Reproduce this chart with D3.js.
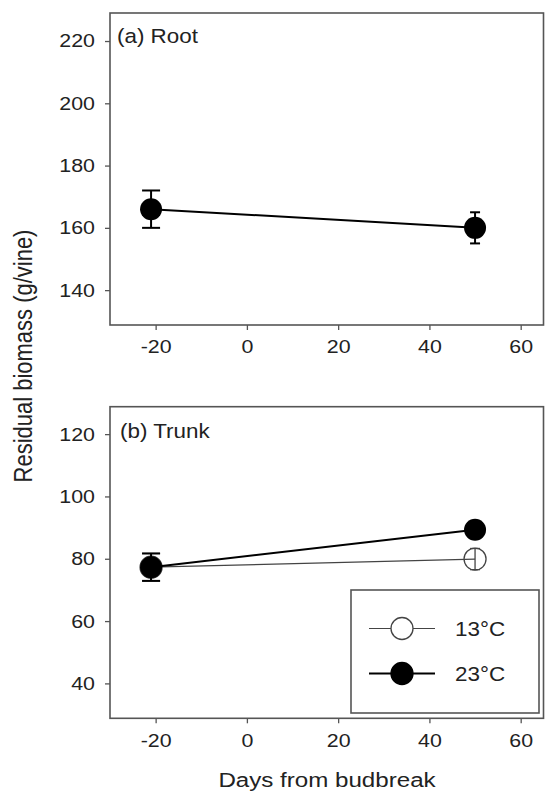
<!DOCTYPE html>
<html>
<head>
<meta charset="utf-8">
<script src="https://cdn.jsdelivr.net/npm/d3@7"></script>
<style>
    body { margin: 0; background: #fff; }
    text { font-family: 'Liberation Sans', Arial, sans-serif; fill: #222; }
</style>
</head>
<body>
<script>
    // Data
    var days = [-21, 50];
    var rootMean = [166, 160];
    var rootErr = [6, 5];
    var trunk13Mean = [77.3, 79.9];
    var trunk13Err = [4.4, 3.4];
    var trunk23Mean = [77.3, 89.3];
    var trunk23Err = [4.4, 2];
    var xTicks = [-20, 0, 20, 40, 60];
    var rootTicks = [140, 160, 180, 200, 220];
    var trunkTicks = [40, 60, 80, 100, 120];
    var legendLabels = ['13\u00b0C', '23\u00b0C'];

    var width = 547,
        height = 791,
        stretch = 1.15,
        frameColor = '#555';

    // plain hyphen for negatives, like the figure
    var fmt = function(d) { return String(d); };

    var svg = d3.select('body')
            .append('svg')
            .attr('width', width)
            .attr('height', height);

    var x = d3.scaleLinear().domain([-30, 65]).range([110, 543.5]);

    var panels = [
        {
            label: '(a) Root', labelX: 117, labelY: 43,
            top: 13, bottom: 325,
            domain: [128.8, 229], ticks: rootTicks,
            series: [
                { mean: rootMean, err: rootErr, open: false }
            ]
        },
        {
            label: '(b) Trunk', labelX: 120, labelY: 438,
            top: 406.7, bottom: 718.3,
            domain: [28.8, 128.8], ticks: trunkTicks,
            series: [
                { mean: trunk13Mean, err: trunk13Err, open: true },
                { mean: trunk23Mean, err: trunk23Err, open: false }
            ]
        }
    ];

    panels.forEach(function(panel) {
        var y = d3.scaleLinear().domain(panel.domain).range([panel.bottom, panel.top]);
        var g = svg.append('g');

        // Axes
        var xAxis = g.append('g')
                .attr('transform', 'translate(0,' + panel.bottom + ')')
                .call(d3.axisBottom(x).tickValues(xTicks).tickSize(5).tickPadding(10).tickFormat(fmt));
        var yAxis = g.append('g')
                .attr('transform', 'translate(110,0)')
                .call(d3.axisLeft(y).tickValues(panel.ticks).tickSize(5).tickPadding(10).tickFormat(fmt));

        [xAxis, yAxis].forEach(function(a) {
            a.select('.domain').remove();
            a.selectAll('line').attr('stroke', frameColor).attr('stroke-width', 1.3);
            a.selectAll('text')
                .attr('fill', '#222')
                .style('font-family', "'Liberation Sans', Arial, sans-serif")
                .style('font-size', '18.6px');
        });
        xAxis.selectAll('text').attr('transform', 'scale(' + stretch + ',1)');
        yAxis.selectAll('text')
                .attr('x', -15 / stretch)
                .attr('transform', 'scale(' + stretch + ',1)');

        // Frame
        g.append('rect')
                .attr('x', x.range()[0])
                .attr('y', panel.top)
                .attr('width', x.range()[1] - x.range()[0])
                .attr('height', panel.bottom - panel.top)
                .attr('fill', 'none')
                .attr('stroke', frameColor)
                .attr('stroke-width', 1.6);

        // Panel label
        g.append('text')
                .attr('transform', 'translate(' + panel.labelX + ',' + panel.labelY + ') scale(' + stretch + ',1)')
                .style('font-size', '19.5px')
                .text(panel.label);

        // Series
        panel.series.forEach(function(s) {
            var pts = days.map(function(d, i) { return { day: d, mean: s.mean[i], err: s.err[i], idx: i }; });
            var col = s.open ? '#444' : '#000';

            g.append('path')
                    .datum(pts)
                    .attr('fill', 'none')
                    .attr('stroke', col)
                    .attr('stroke-width', s.open ? 1.2 : 2)
                    .attr('d', d3.line().x(function(d) { return x(d.day); }).y(function(d) { return y(d.mean); }));

            var eb = g.append('g').selectAll('g').data(pts).enter().append('g')
                    .attr('stroke', col)
                    .attr('stroke-width', s.open ? 1.3 : 2);
            eb.append('line')
                    .attr('x1', function(d) { return x(d.day); })
                    .attr('x2', function(d) { return x(d.day); })
                    .attr('y1', function(d) { return y(d.mean + d.err); })
                    .attr('y2', function(d) { return y(d.mean - d.err); });
            [1, -1].forEach(function(sign) {
                eb.append('line')
                        .attr('x1', function(d) { return x(d.day) - (d.idx === 0 ? 9 : 5); })
                        .attr('x2', function(d) { return x(d.day) + (d.idx === 0 ? 9 : 5); })
                        .attr('y1', function(d) { return y(d.mean + sign * d.err); })
                        .attr('y2', function(d) { return y(d.mean + sign * d.err); });
            });

            g.append('g').selectAll('circle').data(pts).enter().append('circle')
                    .attr('cx', function(d) { return x(d.day); })
                    .attr('cy', function(d) { return y(d.mean); })
                    .attr('r', 11)
                    .attr('fill', s.open ? 'none' : '#000')
                    .attr('stroke', col)
                    .attr('stroke-width', s.open ? 1.3 : 0);
        });
    });

    // Legend (in trunk panel)
    var legend = svg.append('g');
    legend.append('rect')
            .attr('x', 351)
            .attr('y', 590)
            .attr('width', 188)
            .attr('height', 123)
            .attr('fill', '#fff')
            .attr('stroke', frameColor)
            .attr('stroke-width', 1.6);

    var entries = legend.selectAll('g.entry').data(legendLabels).enter().append('g')
            .attr('class', 'entry')
            .attr('transform', function(d, i) { return 'translate(0,' + (628.5 + i * 45) + ')'; });
    entries.append('line')
            .attr('x1', 369)
            .attr('x2', 435)
            .attr('stroke', function(d, i) { return i === 0 ? '#444' : '#000'; })
            .attr('stroke-width', function(d, i) { return i === 0 ? 1.2 : 2; });
    entries.append('circle')
            .attr('cx', 402)
            .attr('r', 11)
            .attr('fill', function(d, i) { return i === 0 ? '#fff' : '#000'; })
            .attr('stroke', function(d, i) { return i === 0 ? '#444' : '#000'; })
            .attr('stroke-width', 1.3);
    entries.append('text')
            .attr('transform', 'translate(455,7) scale(' + stretch + ',1)')
            .style('font-size', '19.5px')
            .text(function(d) { return d; });

    // Axis titles
    svg.append('text')
            .attr('transform', 'translate(327,787) scale(' + stretch + ',1)')
            .attr('text-anchor', 'middle')
            .style('font-size', '21px')
            .text('Days from budbreak');

    svg.append('text')
            .attr('transform', 'translate(32,356) scale(' + stretch + ',1) rotate(-90)')
            .attr('text-anchor', 'middle')
            .style('font-size', '22px')
            .text('Residual biomass (g/vine)');
</script>
</body>
</html>
